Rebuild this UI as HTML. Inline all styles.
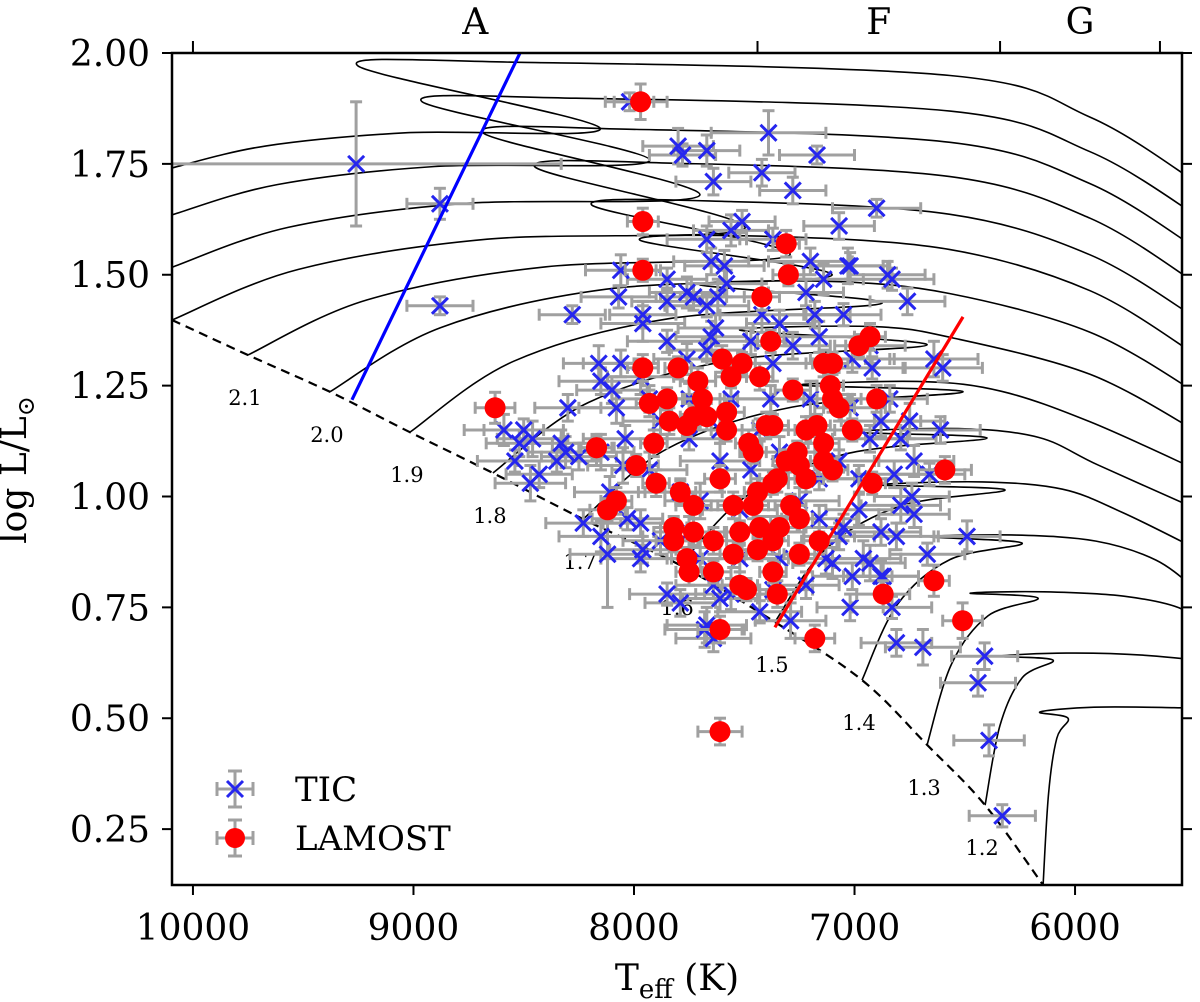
<!DOCTYPE html>
<html>
<head>
<meta charset="utf-8">
<style>
html,body{margin:0;padding:0;background:#fff;}
svg{display:block;font-family:"DejaVu Serif","Liberation Serif",serif;}
</style>
</head>
<body>
<svg id="chart" width="1200" height="1002" viewBox="0 0 1200 1002" xmlns="http://www.w3.org/2000/svg">
  <defs>
    <clipPath id="plotclip"><rect x="172" y="53" width="1010" height="832"/></clipPath>
  </defs>
  <rect x="0" y="0" width="1200" height="1002" fill="#fff"/>
  <g id="tracks" clip-path="url(#plotclip)"></g>
  <g id="zams" clip-path="url(#plotclip)"></g>
  <g id="masslabels"></g>
  <g id="tic" clip-path="url(#plotclip)"></g>
  <g id="lamost" clip-path="url(#plotclip)"></g>
  <g id="edges" clip-path="url(#plotclip)"></g>
  <rect x="172" y="53" width="1010" height="832" fill="none" stroke="#000" stroke-width="2.5"/>
  <g id="axes"></g>
  <text x="26" y="470" font-size="36" text-anchor="middle" transform="rotate(-90 26 470)">log L/L<tspan font-size="24" dy="8">⊙</tspan></text>
  <text x="677" y="990" font-size="36" text-anchor="middle">T<tspan font-size="26" dy="8">eff</tspan><tspan dy="-8"> (K)</tspan></text>
  <g id="legend">
    <g>
      <line x1="217" y1="789" x2="253" y2="789" stroke="#a0a0a0" stroke-width="3"/>
      <line x1="235" y1="771" x2="235" y2="807" stroke="#a0a0a0" stroke-width="3"/>
      <line x1="217" y1="782" x2="217" y2="796" stroke="#a0a0a0" stroke-width="3"/>
      <line x1="253" y1="782" x2="253" y2="796" stroke="#a0a0a0" stroke-width="3"/>
      <line x1="228" y1="771" x2="242" y2="771" stroke="#a0a0a0" stroke-width="3"/>
      <line x1="228" y1="807" x2="242" y2="807" stroke="#a0a0a0" stroke-width="3"/>
      <path d="M227 781 L243 797 M243 781 L227 797" stroke="#2626ee" stroke-width="3"/>
      <text x="295" y="801" font-size="34">TIC</text>
    </g>
    <g>
      <line x1="217" y1="838" x2="253" y2="838" stroke="#a0a0a0" stroke-width="3"/>
      <line x1="235" y1="820" x2="235" y2="856" stroke="#a0a0a0" stroke-width="3"/>
      <line x1="217" y1="831" x2="217" y2="845" stroke="#a0a0a0" stroke-width="3"/>
      <line x1="253" y1="831" x2="253" y2="845" stroke="#a0a0a0" stroke-width="3"/>
      <line x1="228" y1="820" x2="242" y2="820" stroke="#a0a0a0" stroke-width="3"/>
      <line x1="228" y1="856" x2="242" y2="856" stroke="#a0a0a0" stroke-width="3"/>
      <circle cx="235" cy="838" r="10" fill="#ff0000"/>
      <text x="295" y="850" font-size="34">LAMOST</text>
    </g>
  </g>
</svg>
<script>
// ---------- data ----------
const xTicks = [10000, 9000, 8000, 7000, 6000];
const xTickLabels = ["10000", "9000", "8000", "7000", "6000"];
const yTicks = [2.00, 1.75, 1.50, 1.25, 1.00, 0.75, 0.50, 0.25];
const yTickLabels = ["2.00", "1.75", "1.50", "1.25", "1.00", "0.75", "0.50", "0.25"];
const specBounds = [10000, 7440, 6340, 5615];
const specLabels = ["A", "F", "G"];

const trkMass   = [2.5, 2.4, 2.3, 2.2, 2.1, 2.0, 1.9, 1.8, 1.7, 1.6, 1.5, 1.4, 1.3, 1.2, 1.1];
const trkStartT = [10095,10095,10095,10095,9751,9379,9016,8640,8231,7791,7361,6966,6671,6408,6145];
const trkStartL = [1.741,1.635,1.517,1.398,1.319,1.236,1.145,1.053,0.949,0.845,0.717,0.586,0.440,0.304,0.124];
const trkTurnT  = [8154,7928,7701,7497,7293,7102,6875,6671,6508,6399,6318,6240,6168,6100,6032];
const trkTurnL  = [1.831,1.759,1.680,1.605,1.545,1.499,1.436,1.342,1.236,1.132,1.015,0.895,0.771,0.631,0.500];
const trkTipT   = [9252,8961,8685,8449,8191,7973,7701,7519,7247,7021,6884,6658,6476,6340,6159];
const trkTipL   = [1.971,1.890,1.820,1.743,1.657,1.578,1.477,1.375,1.251,1.145,1.026,0.909,0.782,0.640,0.514];
const trkLevL   = [1.979,1.898,1.828,1.751,1.665,1.586,1.485,1.383,1.259,1.153,1.033,0.913,0.785,0.647,0.525];
const trkEndL   = [1.732,1.657,1.583,1.504,1.425,1.342,1.256,1.168,1.078,0.988,0.895,0.800,0.703,0.602,0.514];
const labelMasses = ["2.1","2.0","1.9","1.8","1.7","1.6","1.5","1.4","1.3","1.2"];

const zamsT = [10095,9751,9379,9016,8640,8231,7791,7361,6966,6671,6408,6145];
const zamsL = [1.398,1.319,1.236,1.145,1.053,0.949,0.845,0.717,0.586,0.440,0.304,0.124];

const blueEdgeT = [9279, 8517];
const blueEdgeL = [1.218, 2.0];
const redEdgeT = [7361, 6508];
const redEdgeL = [0.705, 1.405];

const ticT = [9260,8880,8880,8280,8020,7390,7170,7420,7280,6900,
7070,7510,7560,7670,7800,7780,7640,7670,7020,6830,
6760,6640,6600,8060,8070,7960,7960,7850,7850,7760,
7730,7670,7620,7580,7590,7650,7370,7200,7030,7220,
7140,7180,7050,7340,7420,7630,7650,7850,8060,7970,
8100,8080,8300,8500,8460,8330,8040,7760,7670,7470,
7370,7280,7160,7010,6920,6850,6930,6730,6820,6660,
6740,6790,6730,6490,6810,6670,6930,7010,6880,7020,
6830,6810,6690,6410,6440,6390,6330,7640,7680,7070,
7130,8430,8350,8470,8230,8150,7960,7850,7790,7670,
7640,7560,7370,7220,6960,6870,7100,7050,8030,7970,
8050,8250,8590,8520,8540,8160,8150,8310,
7880,7750,7610,7470,7340,7200,7070,6980,7700,7520,
7380,7250,7160,7930,7790,8110,7880,7700,7520,7340,
7930,7750,7560,7380,7200,7020,6880,6930,7430,7610,
8150,7970,7750,7610,7430,7290,7160,6980,6880,6790,
6840,6750,6610,8120];
const ticL = [1.75,1.66,1.43,1.41,1.89,1.82,1.77,1.73,1.69,1.65,
1.61,1.62,1.60,1.58,1.79,1.77,1.71,1.78,1.52,1.49,
1.44,1.31,1.29,1.51,1.45,1.41,1.39,1.44,1.49,1.46,
1.45,1.43,1.45,1.48,1.52,1.53,1.58,1.53,1.52,1.46,
1.49,1.41,1.41,1.39,1.41,1.38,1.36,1.35,1.30,1.27,
1.24,1.20,1.20,1.15,1.13,1.12,1.13,1.31,1.33,1.35,
1.30,1.34,1.36,1.31,1.29,1.50,1.34,1.08,1.05,1.05,
1.00,0.98,0.96,0.91,0.91,0.87,0.85,0.82,0.82,0.75,
0.75,0.67,0.66,0.64,0.58,0.45,0.28,0.68,0.70,0.91,
0.86,1.05,1.08,1.03,0.94,0.91,0.88,0.78,0.76,0.71,
0.80,0.78,0.79,0.80,0.86,0.82,0.85,0.93,0.95,0.94,
1.07,1.09,1.15,1.12,1.08,1.30,1.26,1.10,
1.17,1.13,1.08,1.06,1.10,1.15,1.08,1.04,0.99,0.97,
0.92,0.99,1.04,1.06,1.01,1.01,0.90,0.86,0.86,0.86,
1.22,1.22,1.22,1.22,1.22,1.20,1.17,1.13,1.15,1.15,
1.10,0.86,0.92,0.77,0.74,0.72,0.95,0.97,0.92,1.13,
1.22,1.17,1.15,0.87];
const ticTe = [930,150,150,150,110,260,170,150,150,200,
160,150,170,180,160,150,170,150,180,190,
170,200,180,160,170,150,190,160,180,170,
150,190,170,160,180,170,150,190,160,170,
180,160,170,150,190,170,160,180,170,150,
160,170,150,180,160,170,190,150,170,160,
180,170,160,190,150,170,160,180,170,160,
170,180,160,150,190,170,160,180,170,150,
180,160,170,150,170,160,150,170,180,160,
170,150,180,160,170,190,150,170,160,180,
170,160,180,150,170,160,180,170,160,170,
160,170,180,150,170,160,190,170,
170,160,180,150,170,160,180,170,160,170,
150,180,160,170,190,160,170,150,180,160,
170,160,180,150,170,160,180,170,160,170,
150,180,160,170,190,160,170,150,180,160,
170,160,180,170];
const ticLe = [0.14,0.035,0.02,0.02,0.02,0.05,0.02,0.03,0.03,0.02,
0.03,0.025,0.035,0.03,0.04,0.025,0.03,0.035,0.03,0.025,
0.03,0.04,0.03,0.035,0.025,0.03,0.04,0.03,0.025,0.035,
0.03,0.025,0.04,0.03,0.035,0.03,0.025,0.03,0.04,0.03,
0.035,0.03,0.025,0.03,0.04,0.03,0.035,0.025,0.03,0.04,
0.03,0.035,0.03,0.025,0.04,0.03,0.03,0.035,0.025,0.03,
0.04,0.03,0.035,0.03,0.025,0.03,0.04,0.035,0.03,0.025,
0.03,0.04,0.03,0.035,0.03,0.025,0.04,0.03,0.035,0.03,
0.025,0.03,0.04,0.03,0.03,0.035,0.025,0.03,0.04,0.03,
0.035,0.03,0.025,0.04,0.03,0.035,0.03,0.025,0.03,0.04,
0.03,0.035,0.025,0.03,0.04,0.03,0.035,0.03,0.025,0.03,
0.04,0.03,0.035,0.03,0.025,0.04,0.03,0.035,
0.03,0.025,0.04,0.03,0.035,0.03,0.025,0.03,0.04,0.03,
0.035,0.03,0.025,0.04,0.03,0.035,0.03,0.025,0.03,0.04,
0.03,0.035,0.025,0.03,0.04,0.03,0.035,0.03,0.025,0.03,
0.04,0.03,0.035,0.03,0.025,0.04,0.03,0.035,0.03,0.025,
0.03,0.04,0.03,0.12];

const lamT = [7970,7960,7960,7310,7300,7420,7380,7960,8630,8170,
7800,7600,7510,7710,7560,7430,7100,7140,6980,6930,
7280,6900,7110,7100,7690,7930,7850,7670,7730,7840,
7760,7580,7580,7400,7370,7220,7170,7070,7010,7910,
8170,7480,7260,7140,7990,8080,8120,7900,7790,7730,
7820,7730,7820,7640,7760,7750,7640,7550,7520,7460,
7430,7550,7440,7520,7490,7370,7370,7350,7290,7250,
7250,7160,6920,7610,7460,7350,7250,7140,7100,7220,
7310,6870,7610,7180,7370,7440,7340,6590,6640,6510,
7610];
const lamL = [1.89,1.62,1.51,1.57,1.50,1.45,1.35,1.29,1.20,1.11,
1.29,1.31,1.30,1.26,1.27,1.27,1.30,1.30,1.34,1.36,
1.24,1.22,1.25,1.22,1.22,1.21,1.22,1.18,1.18,1.17,
1.16,1.19,1.15,1.16,1.16,1.15,1.16,1.20,1.15,1.12,
1.11,1.12,1.10,1.12,1.07,0.99,0.97,1.03,1.01,0.98,
0.93,0.92,0.90,0.90,0.86,0.83,0.83,0.98,0.92,0.98,
0.93,0.87,0.88,0.80,0.79,0.90,0.83,0.78,0.98,0.95,
0.87,0.90,1.03,1.04,1.10,1.04,1.07,1.08,1.06,1.04,
1.08,0.78,0.70,0.68,1.03,1.01,0.93,1.06,0.81,0.72,
0.47];
const lamTe = [120,70,80,60,70,80,60,70,90,80,
60,70,60,80,70,60,70,80,60,70,
80,70,60,70,80,60,70,80,60,70,
60,80,70,60,70,80,60,70,80,60,
70,60,80,70,60,70,80,60,70,80,
60,70,80,60,70,60,80,70,60,70,
80,60,70,80,60,70,60,80,70,60,
70,80,60,70,60,80,70,60,70,80,
60,120,100,90,70,60,80,120,70,90,
100];
const lamLe = [0.04,0.03,0.025,0.03,0.025,0.03,0.025,0.03,0.035,0.03,
0.025,0.03,0.025,0.03,0.025,0.03,0.025,0.03,0.025,0.03,
0.025,0.03,0.025,0.03,0.025,0.03,0.025,0.03,0.025,0.03,
0.025,0.03,0.025,0.03,0.025,0.03,0.025,0.03,0.025,0.03,
0.025,0.03,0.025,0.03,0.025,0.03,0.025,0.03,0.025,0.03,
0.025,0.03,0.025,0.03,0.025,0.03,0.025,0.03,0.025,0.03,
0.025,0.03,0.025,0.03,0.025,0.03,0.025,0.03,0.025,0.03,
0.025,0.03,0.025,0.03,0.025,0.03,0.025,0.03,0.025,0.03,
0.025,0.03,0.03,0.03,0.025,0.03,0.025,0.03,0.035,0.04,
0.03];

// ---------- scales ----------
const X0 = 172, X1 = 1182, Y0 = 53, Y1 = 885;
const T_LEFT = 10095, T_RIGHT = 5515, L_TOP = 2.0, L_BOT = 0.124;
function xs(T) { return X0 + (T_LEFT - T) / (T_LEFT - T_RIGHT) * (X1 - X0); }
function ys(L) { return Y0 + (L_TOP - L) / (L_TOP - L_BOT) * (Y1 - Y0); }

const NS = "http://www.w3.org/2000/svg";
function el(tag, parent) { const e = document.createElementNS(NS, tag); parent.appendChild(e); return e; }

function catmull(pts) {
  let d = "M" + pts[0][0].toFixed(1) + " " + pts[0][1].toFixed(1);
  for (let i = 0; i < pts.length - 1; i++) {
    const p0 = pts[Math.max(0, i - 1)], p1 = pts[i], p2 = pts[i + 1], p3 = pts[Math.min(pts.length - 1, i + 2)];
    const c1 = [p1[0] + (p2[0] - p0[0]) / 6, p1[1] + (p2[1] - p0[1]) / 6];
    const c2 = [p2[0] - (p3[0] - p1[0]) / 6, p2[1] - (p3[1] - p1[1]) / 6];
    d += " C" + c1[0].toFixed(1) + " " + c1[1].toFixed(1) + " " + c2[0].toFixed(1) + " " + c2[1].toFixed(1) + " " + p2[0].toFixed(1) + " " + p2[1].toFixed(1);
  }
  return d;
}

// ---------- tracks ----------
const gTracks = document.getElementById("tracks");
const gLabels = document.getElementById("masslabels");
for (let i = 0; i < trkMass.length; i++) {
  const S = [xs(trkStartT[i]), ys(trkStartL[i])];
  const O = [xs(trkTurnT[i]), ys(trkTurnL[i])];
  const P = [xs(trkTipT[i]), ys(trkTipL[i])];
  const yLev = ys(trkLevL[i]), yEnd = ys(trkEndL[i]);
  const drop = yEnd - yLev;
  const m1 = [S[0] + (O[0] - S[0]) * 0.22, S[1] + (O[1] - S[1]) * 0.55];
  const m2 = [S[0] + (O[0] - S[0]) * 0.55, S[1] + (O[1] - S[1]) * 0.88];
  const p1 = [P[0] + (O[0] - P[0]) * 0.5 + 40, yLev];
  const p2x = Math.max(p1[0] + 80, 950);
  const p2 = [p2x, yLev + drop * 0.12];
  const p3 = [Math.max(p2x + 60, 1090), yLev + drop * 0.5];
  const E = [X1 + 15, yEnd + drop * 0.1];
  const path = el("path", gTracks);
  path.setAttribute("d", catmull([S, m1, m2, O, P, p1, p2, p3, E]));
  path.setAttribute("fill", "none");
  path.setAttribute("stroke", "#000");
  path.setAttribute("stroke-width", "1.6");
  
  
  const lbl = trkMass[i].toFixed(1);
  if (labelMasses.indexOf(lbl) >= 0) {
    const t = el("text", gLabels);
    t.setAttribute("x", (S[0] - 3).toFixed(1));
    t.setAttribute("y", (S[1] + 50).toFixed(1));
    t.setAttribute("font-size", "21");
    t.setAttribute("text-anchor", "middle");
    t.textContent = lbl;
    
    
  }
}

// ---------- ZAMS ----------
const zp = zamsT.map((T, i) => [xs(T), ys(zamsL[i])]);
const zpath = el("path", document.getElementById("zams"));
zpath.setAttribute("d", catmull(zp));
zpath.setAttribute("fill", "none");
zpath.setAttribute("stroke", "#000");
zpath.setAttribute("stroke-width", "2.2");
zpath.setAttribute("stroke-dasharray", "9,6");



// ---------- TIC ----------
const gTic = document.getElementById("tic");
const gray = "#a0a0a0";
function errbar(g, T, L, te, le, cap) {
  const cx = xs(T), cy = ys(L);
  const xl = xs(T + te), xr = xs(T - te), yt = ys(L + le), yb = ys(L - le);
  const segs = [[xl, cy, xr, cy], [cx, yt, cx, yb], [xl, cy - cap, xl, cy + cap], [xr, cy - cap, xr, cy + cap], [cx - cap, yt, cx + cap, yt], [cx - cap, yb, cx + cap, yb]];
  for (const s of segs) {
    const ln = el("line", g);
    ln.setAttribute("x1", s[0].toFixed(1)); ln.setAttribute("y1", s[1].toFixed(1));
    ln.setAttribute("x2", s[2].toFixed(1)); ln.setAttribute("y2", s[3].toFixed(1));
    ln.setAttribute("stroke", gray);
    ln.setAttribute("stroke-width", "3");
  }
}
const gTicErr = el("g", gTic);


for (let i = 0; i < ticT.length; i++) errbar(gTicErr, ticT[i], ticL[i], ticTe[i], ticLe[i], 6);
const gTicMk = el("g", gTic);


for (let i = 0; i < ticT.length; i++) {
  const cx = xs(ticT[i]), cy = ys(ticL[i]), s = 8;
  const m = el("path", gTicMk);
  m.setAttribute("d", `M${cx - s} ${cy - s} L${cx + s} ${cy + s} M${cx + s} ${cy - s} L${cx - s} ${cy + s}`);
  m.setAttribute("stroke", "#2626ee");
  m.setAttribute("stroke-width", "3");
  
  
}

// ---------- LAMOST ----------
const gLam = document.getElementById("lamost");
const gLamErr = el("g", gLam);


for (let i = 0; i < lamT.length; i++) errbar(gLamErr, lamT[i], lamL[i], lamTe[i], lamLe[i], 6);
const gLamMk = el("g", gLam);


for (let i = 0; i < lamT.length; i++) {
  const c = el("circle", gLamMk);
  c.setAttribute("cx", xs(lamT[i]).toFixed(1));
  c.setAttribute("cy", ys(lamL[i]).toFixed(1));
  c.setAttribute("r", "10.5");
  c.setAttribute("fill", "#ff0000");
  
  
}

// ---------- instability strip edges ----------
const gEdges = document.getElementById("edges");
const be = el("line", gEdges);
be.setAttribute("x1", xs(blueEdgeT[0])); be.setAttribute("y1", ys(blueEdgeL[0]));
be.setAttribute("x2", xs(blueEdgeT[1])); be.setAttribute("y2", ys(blueEdgeL[1]));
be.setAttribute("stroke", "#0000ff"); be.setAttribute("stroke-width", "3.2");


const re = el("line", gEdges);
re.setAttribute("x1", xs(redEdgeT[0])); re.setAttribute("y1", ys(redEdgeL[0]));
re.setAttribute("x2", xs(redEdgeT[1])); re.setAttribute("y2", ys(redEdgeL[1]));
re.setAttribute("stroke", "#ff0000"); re.setAttribute("stroke-width", "3.2");



// ---------- axes ----------
const gAx = document.getElementById("axes");
function line(g, x1, y1, x2, y2, w) {
  const l = el("line", g);
  l.setAttribute("x1", x1); l.setAttribute("y1", y1); l.setAttribute("x2", x2); l.setAttribute("y2", y2);
  l.setAttribute("stroke", "#000"); l.setAttribute("stroke-width", w);
  return l;
}
for (let i = 0; i < xTicks.length; i++) {
  const x = xs(xTicks[i]);
  const tk = line(gAx, x, Y1, x, Y1 + 10, 2);
  
  
  const t = el("text", gAx);
  t.setAttribute("x", x); t.setAttribute("y", 940);
  t.setAttribute("font-size", "36"); t.setAttribute("text-anchor", "middle");
  t.textContent = xTickLabels[i];
  
  
}
for (let i = 0; i < yTicks.length; i++) {
  const y = ys(yTicks[i]);
  const tl = line(gAx, X0 - 10, y, X0, y, 2);
  
  
  const tr = line(gAx, X1, y, X1 + 10, y, 2);
  
  
  const t = el("text", gAx);
  t.setAttribute("x", 150); t.setAttribute("y", y + 13);
  t.setAttribute("font-size", "36"); t.setAttribute("text-anchor", "end");
  t.textContent = yTickLabels[i];
  
  
}
for (let i = 0; i < specBounds.length; i++) {
  const x = xs(specBounds[i]);
  const tk = line(gAx, x, Y0 - 12, x, Y0, 2);
  
  
}
for (let i = 0; i < specLabels.length; i++) {
  const x = (xs(specBounds[i]) + xs(specBounds[i + 1])) / 2;
  const t = el("text", gAx);
  t.setAttribute("x", x); t.setAttribute("y", 34);
  t.setAttribute("font-size", "36"); t.setAttribute("text-anchor", "middle");
  t.textContent = specLabels[i];
  
  
}
</script>
</body>
</html>
